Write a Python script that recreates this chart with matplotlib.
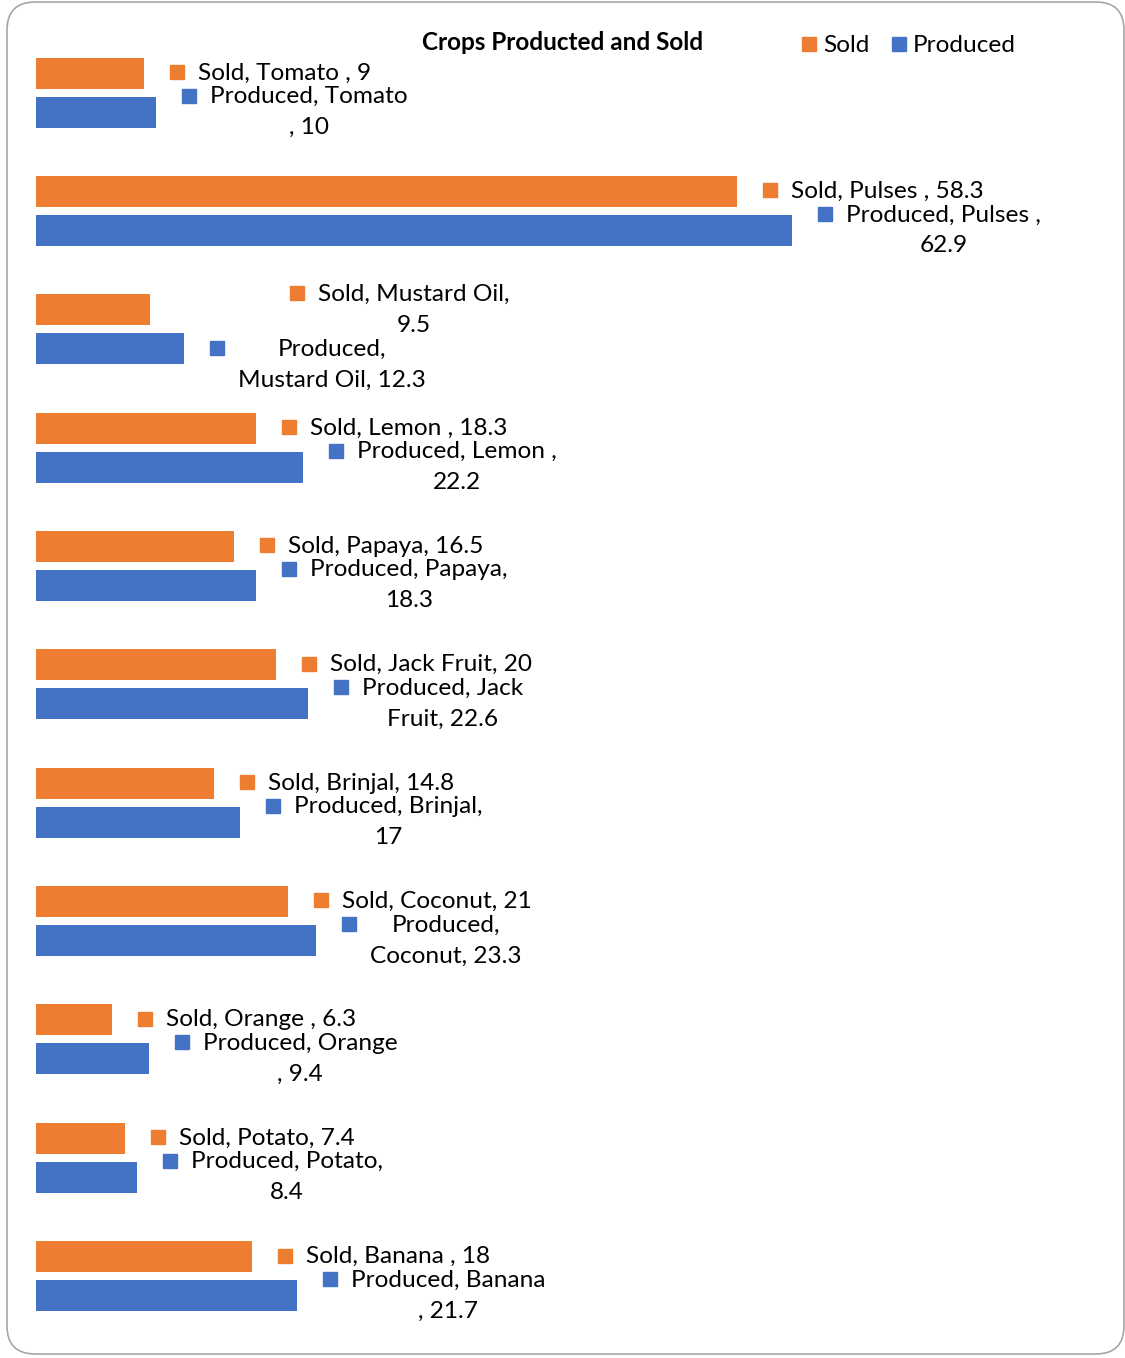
import numpy as np
import matplotlib
matplotlib.use("Agg")
from matplotlib import pyplot as plt
from matplotlib.patches import FancyBboxPatch
from matplotlib.transforms import offset_copy

plt.rcParams['font.family'] = ['Lato', 'DejaVu Sans']

# crops, top to bottom
crops = ["Tomato ", "Pulses ", "Mustard Oil", "Lemon ", "Papaya", "Jack Fruit",
         "Brinjal", "Coconut", "Orange ", "Potato", "Banana "]
sold = [9, 58.3, 9.5, 18.3, 16.5, 20, 14.8, 21, 6.3, 7.4, 18]
produced = [10, 62.9, 12.3, 22.2, 18.3, 22.6, 17, 23.3, 9.4, 8.4, 21.7]

# words kept on the first line of each data label (0 = no wrap)
sold_wrap = [0, 0, 3, 0, 0, 0, 0, 0, 0, 0, 0]
prod_wrap = [2, 3, 1, 3, 2, 2, 2, 1, 2, 2, 2]
# labels dragged away from their bars (px: right, down)
sold_shift = [0, 0, 114, 0, 0, 0, 0, 0, 0, 0, 0]
prod_drop = [0, 0, 16, 0, 0, 0, 0, 0, 0, 0, 0]

ORANGE = "#ED7D31"
BLUE = "#4472C4"

W, H = 1125, 1358
fig = plt.figure(figsize=(W / 100, H / 100), dpi=100)

# chart frame
frame = FancyBboxPatch((7 / W, 4 / H), 1117 / W, 1352 / H,
                       boxstyle="round,pad=0,rounding_size=0.025",
                       transform=fig.transFigure, fc="none", ec="#a6a6a6", lw=1.2,
                       mutation_aspect=W / H)
fig.patches.append(frame)

px_per_unit = (792 - 36) / 62.9
ax = fig.add_axes([36 / W, 0, (W - 36) / W, 1])
ax.set_xlim(0, (W - 36) / px_per_unit)
step = 118.35
ax.set_ylim((H - 92.5) / step, -92.5 / step)
ax.axis("off")
ax.patch.set_alpha(0)

y = np.arange(len(crops))
bh = 31 / step
off = 19.5 / step
ax.barh(y - off, sold, height=bh, color=ORANGE)
ax.barh(y + off, produced, height=bh, color=BLUE)

FS = 17.6
LINE_PX = 31


def label_text(series, crop, val, wrap):
    words = f"{series}, {crop}, {val:g}".replace("  ", " ").split(" ")
    if wrap:
        return " ".join(words[:wrap]) + "\n" + " ".join(words[wrap:])
    return " ".join(words)


def add_label(series, crop, val, yy, wrap, color, dx=0, drop=0):
    txt = label_text(series, crop, val, wrap)
    nlines = txt.count("\n") + 1
    ax.annotate(txt, xy=(val, yy), xytext=(54 + dx, -drop), textcoords="offset pixels",
                ha="left", va="center", multialignment="center",
                fontsize=FS, color="black", linespacing=1.58)
    dy = (nlines - 1) / 2 * LINE_PX + 1 - drop
    tr = offset_copy(ax.transData, fig=fig, x=33 + dx, y=dy, units="dots")
    ax.plot([val], [yy], marker="s", ms=10, color=color, ls="none", transform=tr)


for i, c in enumerate(crops):
    add_label("Sold", c, sold[i], y[i] - off, sold_wrap[i], ORANGE, dx=sold_shift[i])
    add_label("Produced", c, produced[i], y[i] + off, prod_wrap[i], BLUE, drop=prod_drop[i])

fig.text(563 / W, 1 - 42 / H, "Crops Producted and Sold", ha="center", va="center",
         fontsize=17.5, fontweight="bold")

# legend
for mx, tx, name, col in [(809, 823, "Sold", ORANGE), (899, 913, "Produced", BLUE)]:
    fig.patches.append(plt.Rectangle(((mx - 7) / W, 1 - 51 / H), 14 / W, 14 / H,
                                     transform=fig.transFigure, color=col))
    fig.text(tx / W, 1 - 45 / H, name, ha="left", va="center", fontsize=FS)

fig.savefig("out.png", dpi=100)
